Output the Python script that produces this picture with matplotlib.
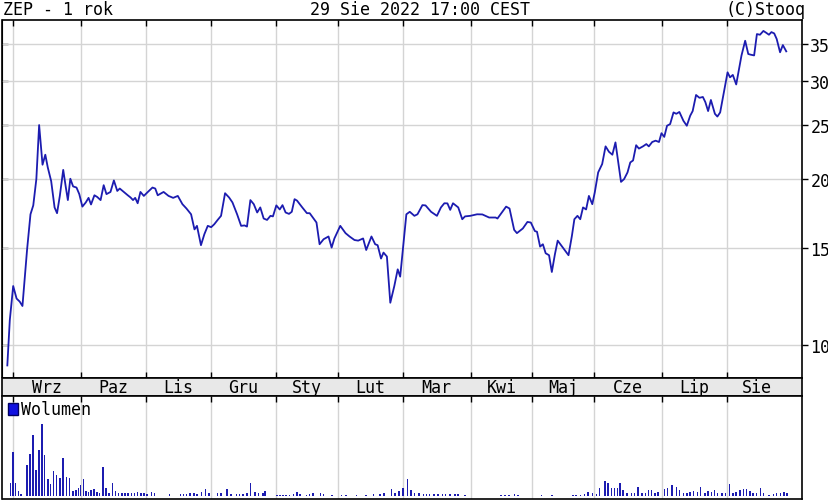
import matplotlib
matplotlib.use("Agg")
import matplotlib.pyplot as plt

plt.rcParams["font.family"] = ["DejaVu Sans Mono"]
plt.rcParams["font.size"] = 12

# session index (trading days from end of Aug 2021) and closing price
price_x = [0.0, 0.8, 1.9, 3.0, 4.0, 4.9, 6.4, 7.5, 8.4, 9.4, 10.3, 11.4, 12.3, 13.1, 14.2,
           15.3, 16.1, 17.0, 18.1, 18.9, 19.6, 20.4, 21.3, 22.4, 23.3, 24.3, 25.4, 26.3,
           27.1, 28.2, 29.1, 30.2, 31.2, 32.1, 33.4, 34.5, 35.6, 36.4, 37.7, 39.0, 39.9,
           40.7, 41.4, 42.2, 43.1, 44.2, 45.5, 47.0, 47.9, 48.7, 50.6, 52.2, 53.7, 55.2,
           56.7, 58.0, 59.5, 60.6, 61.4, 62.7, 63.8, 64.9, 66.0, 67.0, 68.1, 69.2, 70.5,
           71.8, 72.9, 74.4, 75.7, 76.8, 77.6, 78.7, 79.8, 80.9, 81.9, 83.0, 84.1, 85.2,
           86.0, 87.1, 88.2, 89.1, 90.1, 91.2, 92.1, 93.0, 93.8, 95.5, 97.0, 97.9, 100.1,
           101.1, 102.4, 104.0, 105.0, 105.9, 107.8, 109.5, 110.8, 112.4, 113.6, 115.2,
           116.2, 117.9, 119.1, 119.9, 121.0, 121.8, 122.9, 124.0, 125.3, 126.4, 127.2,
           129.2, 130.3, 131.8, 132.8, 134.4, 135.4, 137.2, 139.1, 140.4, 141.5, 142.5,
           143.4, 144.3, 146.0, 147.3, 148.2, 149.9, 152.1, 153.8, 156.0, 158.1, 158.7,
           161.5, 162.6, 164.1, 165.0, 166.9, 168.4, 169.5, 170.8, 171.5, 172.5, 173.4,
           174.3, 175.4, 176.3, 177.3, 178.2, 180.1, 181.7, 182.8, 183.6, 184.6, 185.5,
           186.4, 187.4, 188.3, 189.4, 190.2, 191.3, 192.6, 193.7, 194.8, 195.9, 196.9,
           198.7, 199.7, 200.8, 201.7, 202.6, 203.6, 204.5, 205.8, 206.9, 207.7, 208.8,
           209.9, 211.0, 211.8, 212.7, 213.6, 214.6, 215.7, 216.6, 217.6, 218.9, 220.0,
           221.1, 221.9, 223.0, 224.1, 225.2, 226.0, 226.9, 227.8, 229.1, 229.9, 230.8,
           231.9, 233.2, 234.0, 234.9, 236.0, 236.9, 237.7, 238.9, 239.9, 240.7, 241.8,
           242.7, 243.7, 244.8, 245.7, 246.6, 247.4, 248.3, 249.1, 250.2, 251.1, 252.2]
price_y = [9.2, 11.1, 12.8, 12.15, 12.0, 11.78, 14.9, 17.25, 17.9, 19.97, 25.0, 21.2, 22.1,
           20.96, 19.8, 17.75, 17.33, 18.62, 20.75, 19.37, 18.3, 20.0, 19.37, 19.28, 18.76,
           17.81, 18.12, 18.47, 17.97, 18.67, 18.54, 18.3, 19.47, 18.76, 18.93, 19.86, 19.01,
           19.2, 18.93, 18.67, 18.5, 18.3, 18.47, 18.06, 18.93, 18.62, 18.93, 19.28, 19.2,
           18.67, 18.93, 18.62, 18.47, 18.62, 17.99, 17.67, 17.25, 16.2, 16.44, 15.17, 15.88,
           16.44, 16.35, 16.55, 16.85, 17.14, 18.83, 18.5, 18.12, 17.25, 16.44, 16.47, 16.39,
           18.3, 17.99, 17.38, 17.75, 16.95, 16.85, 17.14, 17.1, 17.9, 17.6, 17.92, 17.38,
           17.28, 17.43, 18.37, 18.26, 17.75, 17.33, 17.33, 16.67, 15.23, 15.55, 15.73, 15.02,
           15.6, 16.44, 15.95, 15.73, 15.5, 15.46, 15.6, 14.87, 15.73, 15.23, 15.17, 14.35,
           14.71, 14.47, 11.94, 12.8, 13.72, 13.31, 17.25, 17.43, 17.14, 17.25, 17.92, 17.9,
           17.43, 17.14, 17.75, 18.06, 18.05, 17.57, 18.06, 17.75, 16.9, 17.1, 17.14, 17.25,
           17.24, 17.02, 17.02, 16.95, 17.81, 17.67, 16.17, 15.95, 16.26, 16.71, 16.67, 16.09,
           16.04, 15.08, 15.23, 14.67, 14.55, 13.57, 14.61, 15.46, 14.96, 14.55, 15.77, 16.9,
           17.14, 16.9, 17.75, 17.6, 18.62, 17.99, 18.89, 20.53, 21.26, 22.88, 22.37, 22.1,
           23.26, 19.74, 19.97, 20.53, 21.4, 21.58, 22.99, 22.67, 22.88, 23.1, 22.88, 23.3,
           23.43, 23.3, 24.17, 23.8, 24.93, 25.1, 26.35, 26.2, 26.4, 25.45, 24.93, 25.99,
           26.5, 28.33, 28.0, 28.1, 27.51, 26.5, 27.75, 26.2, 25.9, 26.35, 28.45, 31.13,
           30.49, 30.8, 29.6, 31.57, 33.37, 35.5, 33.6, 33.5, 33.4, 36.5, 36.4, 36.98, 36.7,
           36.4, 36.8, 36.6, 35.77, 33.84, 34.87, 33.97]

# volume per session (relative units)
vol_x = [1.0, 1.9, 2.7, 3.6, 4.5, 6.4, 7.3, 8.4, 9.2, 10.2, 11.2, 12.0, 13.1, 14.0, 15.0,
         15.9, 17.0, 18.1, 19.1, 20.2, 21.3, 22.2, 23.0, 23.7, 24.6, 25.4, 26.3, 27.1, 28.0,
         29.1, 29.9, 31.0, 31.9, 32.9, 34.0, 35.0, 36.0, 37.1, 38.1, 39.1, 40.2, 41.2, 42.2,
         43.3, 44.3, 45.3, 46.7, 47.7, 52.5, 56.0, 57.0, 58.0, 59.1, 60.5, 61.5, 62.9, 64.2,
         65.3, 68.0, 69.1, 71.1, 72.5, 74.2, 75.2, 76.3, 77.6, 78.8, 80.2, 81.4, 82.8, 83.5,
         87.3, 88.3, 89.3, 90.3, 91.4, 92.7, 93.8, 94.8, 96.9, 97.9, 99.0, 101.4, 102.4,
         105.1, 108.2, 109.6, 113.0, 116.1, 118.6, 120.6, 122.0, 124.4, 125.6, 126.8, 128.2,
         129.5, 130.7, 131.9, 133.3, 134.7, 135.7, 136.7, 138.1, 139.5, 140.9, 141.9, 143.3,
         145.0, 146.0, 148.1, 159.9, 161.1, 162.5, 164.2, 165.3, 172.9, 176.3, 183.2, 184.2,
         185.6, 186.9, 188.0, 189.4, 190.8, 191.8, 193.5, 194.5, 195.6, 196.6, 197.6, 198.3,
         199.4, 200.7, 202.1, 203.1, 204.2, 205.5, 206.6, 207.6, 208.6, 209.7, 210.7, 212.8,
         213.8, 215.2, 216.6, 217.6, 219.0, 220.0, 221.1, 222.1, 223.5, 224.5, 225.9, 226.9,
         228.0, 229.0, 230.0, 231.4, 232.5, 233.8, 234.9, 235.9, 237.3, 238.3, 239.3, 240.4,
         241.4, 242.5, 243.8, 244.9, 246.6, 248.0, 249.0, 250.4, 251.4, 252.5]
vol_y = [13, 44, 13, 5, 2, 31, 42, 61, 26, 46, 72, 41, 17, 12, 25, 21, 18, 38, 19, 18, 5, 6,
         8, 11, 17, 5, 4, 6, 7, 4, 3, 29, 8, 3, 13, 5, 3, 3, 3, 3, 3, 3, 4, 3, 3, 2, 4, 3,
         2, 2, 2, 2, 3, 3, 2, 4, 7, 3, 3, 3, 7, 2, 2, 2, 2, 3, 13, 4, 3, 3, 5,
         1, 1, 1, 1, 1, 2, 4, 2, 1, 2, 3, 3, 2, 1, 1, 1, 1, 1, 2, 2, 3, 7, 3, 5, 8,
         17, 6, 3, 3, 2, 2, 2, 2, 2, 2, 2, 2, 2, 2, 1, 1, 1, 1, 2, 1, 1, 1, 1, 1,
         1, 2, 4, 3, 2, 8, 15, 13, 8, 8, 8, 13, 6, 3, 3, 3, 9, 3, 3, 6, 6, 3, 4, 7,
         8, 11, 9, 6, 3, 3, 4, 5, 4, 9, 3, 5, 4, 6, 3, 3, 3, 12, 3, 4, 6, 7, 7, 5,
         3, 3, 8, 3, 1, 2, 3, 3, 4, 3]

month_start = [2, 24, 45, 66, 87, 107, 128, 150, 170, 190, 212, 233]
month_names = ["Wrz", "Paz", "Lis", "Gru", "Sty", "Lut", "Mar", "Kwi", "Maj", "Cze", "Lip", "Sie"]
price_ticks = [10, 15, 20, 25, 30, 35]

line_color = "#1c1cb0"
grid_color = "#d4d4d4"
x_lim = (-1.56, 257.3)

fig = plt.figure(figsize=(8.29, 5.02), dpi=100)
W, H = 829, 502

def box(x0, y0, x1, y1):
    return [x0 / W, 1 - y1 / H, (x1 - x0) / W, (y1 - y0) / H]

# price panel
ax = fig.add_axes(box(2.5, 21, 802, 378.5))
ax.plot(price_x, price_y, color=line_color, lw=1.3)
ax.set_yscale("log")
ax.set_ylim(8.75, 38.7)
ax.set_xlim(*x_lim)
ax.set_yticks(price_ticks)
ax.set_yticklabels([str(t) for t in price_ticks])
ax.yaxis.set_minor_locator(plt.NullLocator())
ax.set_xticks(month_start)
ax.tick_params(axis="x", direction="in", top=True, bottom=True, labelbottom=False, length=4, width=1)
ax.tick_params(axis="y", direction="out", left=False, right=True, labelleft=False,
               labelright=True, length=4, width=1, pad=2)
ax.grid(True, color=grid_color, lw=1)
ax.set_axisbelow(True)
left = ax.secondary_yaxis("left")
left.set_yticks(price_ticks)
left.yaxis.set_minor_locator(plt.NullLocator())
left.tick_params(direction="in", labelleft=False, length=4, width=1)
for s in ax.spines.values():
    s.set_linewidth(1.2)

# month band
band = fig.add_axes(box(2.5, 378.5, 802, 396.5))
band.set_facecolor("#e8e8e8")
band.set_xlim(*x_lim)
band.set_ylim(0, 1)
band.set_xticks([])
band.set_yticks([])
for s in band.spines.values():
    s.set_linewidth(1.2)
edges = month_start + [price_x[-1]]
for i, name in enumerate(month_names):
    band.text((edges[i] + edges[i + 1]) / 2, 0.45, name, ha="center", va="center")

# volume panel
axv = fig.add_axes(box(2.5, 396.5, 802, 499.5))
axv.bar(vol_x, vol_y, width=0.5, color=line_color, label="Wolumen")
axv.set_xlim(*x_lim)
axv.set_ylim(-2, 100.6)
axv.set_yticks([])
axv.set_xticks(month_start)
axv.tick_params(axis="x", direction="in", top=True, bottom=False, labelbottom=False, length=4, width=1)
axv.grid(True, axis="x", color=grid_color, lw=1)
axv.set_axisbelow(True)
for s in axv.spines.values():
    s.set_linewidth(1.2)
leg = axv.legend(loc="upper left", frameon=False, handlelength=0.6, handleheight=0.7,
                 handletextpad=0.2, borderaxespad=0.1, borderpad=0.2)
for h in leg.legend_handles:
    h.set_color("#1010e0")
    h.set_edgecolor("#000060")

# header
fig.text(3 / W, 1 - 15 / H, "ZEP - 1 rok", ha="left", va="baseline")
fig.text(420 / W, 1 - 15 / H, "29 Sie 2022 17:00 CEST", ha="center", va="baseline")
fig.text(806 / W, 1 - 15 / H, "(C)Stooq", ha="right", va="baseline")

fig.savefig("out.png", dpi=100)
